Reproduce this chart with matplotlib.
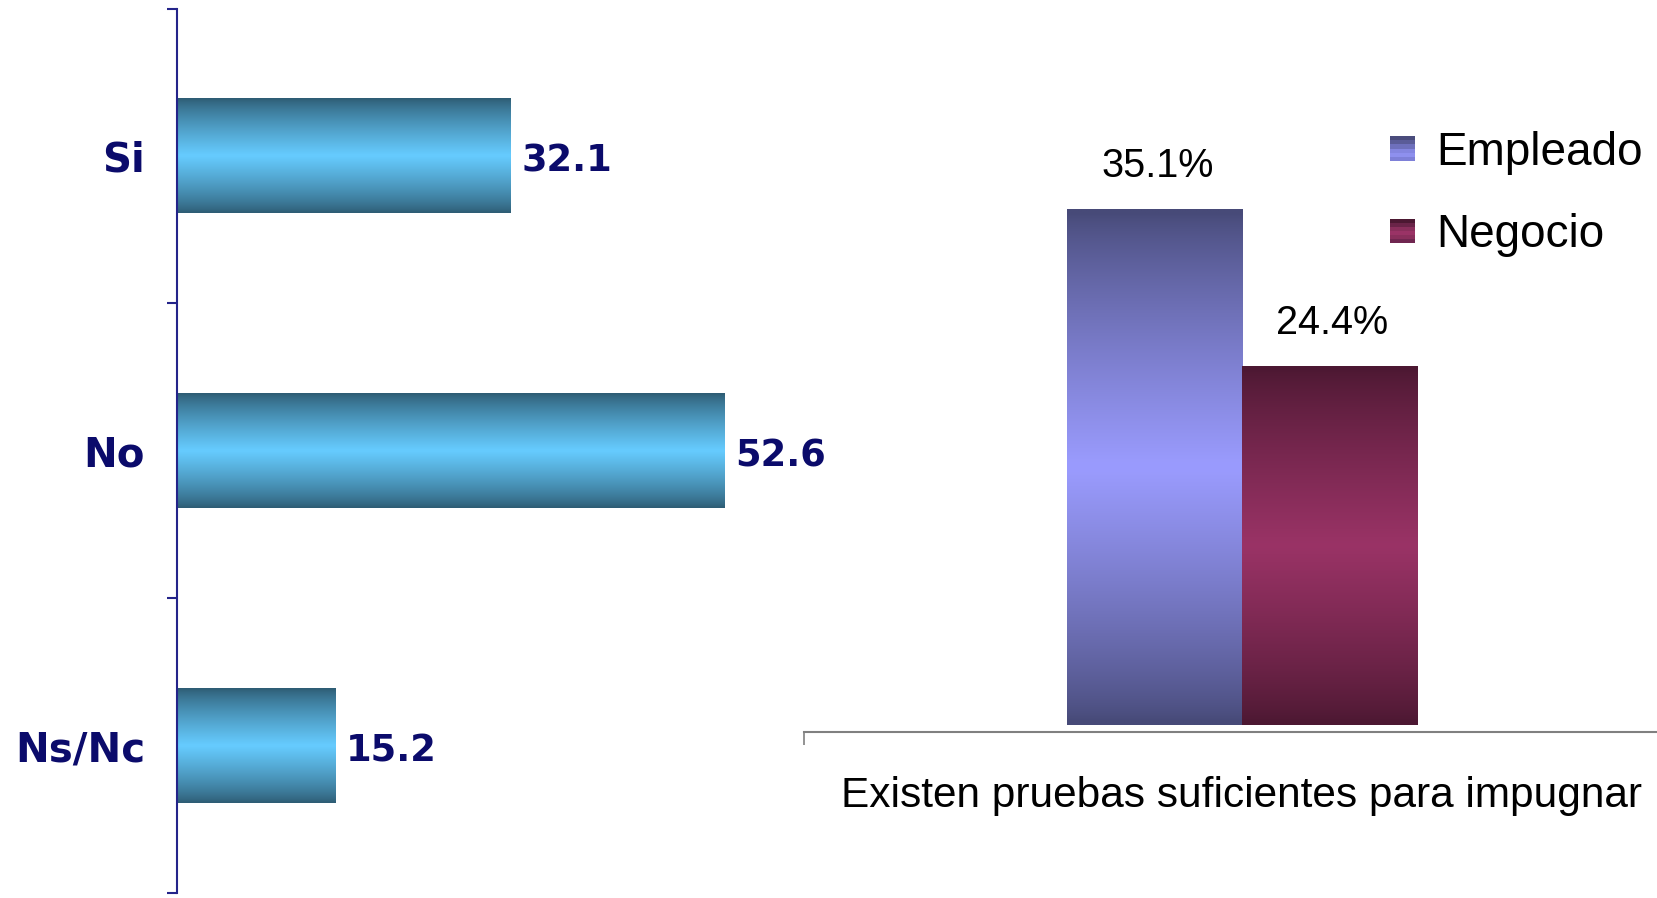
import numpy as np
import matplotlib
matplotlib.use("Agg")
import matplotlib.pyplot as plt
from matplotlib.colors import to_rgb
from matplotlib.patches import Rectangle
from matplotlib.legend_handler import HandlerBase

# left chart
respuestas = ["Si", "No", "Ns/Nc"]
porcentajes = [32.1, 52.6, 15.2]

# right chart
grupos = ["Empleado", "Negocio"]
categoria = "Existen pruebas suficientes para impugnar"
valores_grupo = [35.1, 24.4]

W, H = 1658, 898
NAVY = "#0b0b6b"
AXIS_BLUE = "#24248a"


def gradient(dark, light, n=64, power=0.8):
    dark = np.array(to_rgb(dark))
    light = np.array(to_rgb(light))
    t = np.linspace(0, 1, n)
    s = (1 - np.abs(2 * t - 1)) ** power
    return dark + (light - dark) * s[:, None]


def fill_gradient(ax, bars, dark, light):
    for bar in bars:
        x0, y0 = bar.get_xy()
        w, h = bar.get_width(), bar.get_height()
        img = gradient(dark, light)[:, None, :]
        im = ax.imshow(img, extent=(x0, x0 + w, y0, y0 + h), aspect="auto",
                       interpolation="bilinear", zorder=2)
        im.set_clip_path(bar)


class GradientSquare(HandlerBase):
    def __init__(self, colors):
        super().__init__()
        self.colors = colors

    def create_artists(self, legend, orig_handle, xdescent, ydescent,
                       width, height, fontsize, trans):
        n = len(self.colors)
        top = -ydescent + height
        arts = []
        for i, c in enumerate(self.colors):
            arts.append(Rectangle((-xdescent, top - (i + 1) * height / n),
                                  width, height / n, facecolor=c,
                                  edgecolor="none", transform=trans))
        return arts


fig = plt.figure(figsize=(W / 100, H / 100), dpi=100)

# ---- left: horizontal bars
ax1 = fig.add_axes([177 / W, 5 / H, 624 / W, 884.5 / H])
ypos = np.arange(len(respuestas))
bars1 = ax1.barh(ypos, porcentajes, height=0.39, color="none", edgecolor="none")
fill_gradient(ax1, bars1, "#2e5d75", "#66ccff")
ax1.set_xlim(0, 60)
ax1.set_ylim(2.5, -0.5)
for s in ["top", "right", "bottom"]:
    ax1.spines[s].set_visible(False)
ax1.spines["left"].set_color(AXIS_BLUE)
ax1.spines["left"].set_linewidth(1.5)
ax1.spines["left"].set_zorder(3)
ax1.set_xticks([])
ax1.set_yticks([-0.5, 0.5, 1.5, 2.5])
ax1.set_yticklabels([])
ax1.tick_params(axis="y", which="major", length=7, width=1.5, color=AXIS_BLUE)
ax1.set_yticks(ypos, minor=True)
ax1.set_yticklabels(respuestas, minor=True, fontsize=29, fontweight="bold",
                    color=NAVY, family="DejaVu Sans")
ax1.tick_params(axis="y", which="minor", length=0, pad=23)
for yi, v in zip(ypos, porcentajes):
    ax1.annotate(f"{v}", (v, yi), xytext=(8, -4), textcoords="offset points",
                 ha="left", va="center", fontsize=26.5, fontweight="bold",
                 color=NAVY, family="DejaVu Sans")

# ---- right: grouped vertical bars
ax2 = fig.add_axes([804 / W, 1 - 725 / H, (1680 - 804) / W, 588 / H])
ax2.patch.set_visible(False)
xpos = np.array([-0.1, 0.1])
bars2 = ax2.bar(xpos, valores_grupo, width=0.2, color="none", edgecolor="none")
fill_gradient(ax2, [bars2[0]], "#474a78", "#9b9cff")
fill_gradient(ax2, [bars2[1]], "#4c1832", "#9a3366")
ax2.set_xlim(-0.5, 0.5)
ax2.set_ylim(0, 40)
for s in ["top", "right", "left"]:
    ax2.spines[s].set_visible(False)
ax2.spines["bottom"].set_position(("outward", 5))
ax2.spines["bottom"].set_color("#808080")
ax2.spines["bottom"].set_linewidth(1.5)
ax2.set_yticks([])
ax2.set_xticks([-0.5])
ax2.set_xticklabels([""])
ax2.tick_params(axis="x", which="major", length=9, width=1.2, color="#808080")
ax2.set_xticks([0], minor=True)
ax2.set_xticklabels([categoria], minor=True, fontsize=30.5, family="Liberation Sans")
ax2.tick_params(axis="x", which="minor", length=0, pad=32)
for xi, v in zip(xpos, valores_grupo):
    ax2.annotate(f"{v}%", (xi, v), xytext=(2, 31), textcoords="offset points",
                 ha="center", va="center", fontsize=28.5, family="Liberation Sans")

leg_cols = [
    ["#4a4c7c", "#5a5c98", "#6e70bc", "#8486e0", "#8e90ee", "#7e80d8"],
    ["#4c1832", "#6a2448", "#8a2f5c", "#9a3366", "#8a2f5c", "#702650"],
]
leg = fig.legend(list(bars2), grupos, loc="upper left",
                 bbox_to_anchor=(1367 / W, 1 - 108 / H), frameon=False,
                 borderpad=0, handlelength=0.55, handleheight=0.45,
                 handletextpad=0.47, labelspacing=0.84,
                 prop={"family": "Liberation Sans", "size": 33},
                 handler_map={bars2[0]: GradientSquare(leg_cols[0]),
                              bars2[1]: GradientSquare(leg_cols[1])})

fig.savefig("out.png", dpi=100)
